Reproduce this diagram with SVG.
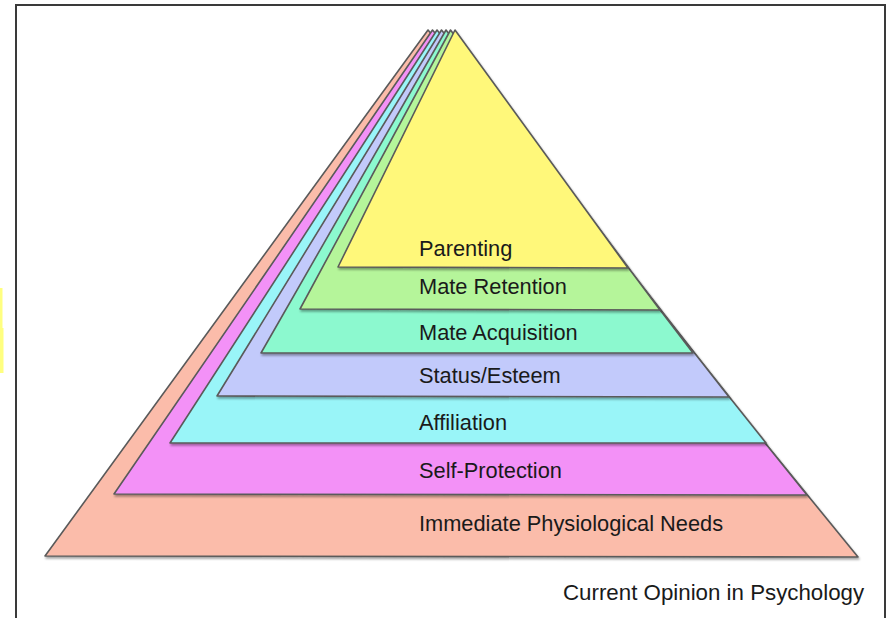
<svg xmlns="http://www.w3.org/2000/svg" width="890" height="618" viewBox="0 0 890 618">
<style>
.layer{stroke:#5a5a5a;stroke-width:1.6;stroke-linejoin:round;filter:url(#sh)}
.lbl{font-family:"Liberation Sans",Arial,sans-serif;font-size:21.8px;fill:#1a1a1a}
.cap{font-size:22.3px}
</style>
<defs>
<filter id="sh" x="-5%" y="-5%" width="110%" height="115%">
<feDropShadow dx="1" dy="2" stdDeviation="1.3" flood-color="#000" flood-opacity="0.35"/>
</filter>
</defs>
<rect x="0" y="0" width="890" height="618" fill="#ffffff"/>
<rect x="0" y="288" width="2.5" height="40" fill="#ffff80"/>
<rect x="0" y="328" width="3.5" height="45" fill="#ffff80"/>
<rect x="16" y="5" width="869" height="625" fill="#ffffff" stroke="#3a3a3a" stroke-width="2"/>
<g id="immediate-physiological-needs">
<polygon class="layer" points="428,30 858,557 45,556" fill="#fbbcaa"/>
<text class="lbl" x="419" y="531">Immediate Physiological Needs</text>
</g>
<g id="self-protection">
<polygon class="layer" points="432.5,30 807,495 114,494" fill="#f391f7"/>
<text class="lbl" x="419" y="478">Self-Protection</text>
</g>
<g id="affiliation">
<polygon class="layer" points="437,30 766,443 170,443" fill="#99f5f8"/>
<text class="lbl" x="419" y="430">Affiliation</text>
</g>
<g id="status-esteem">
<polygon class="layer" points="441.5,30 729,397 217,396" fill="#c2cafb"/>
<text class="lbl" x="419" y="383">Status/Esteem</text>
</g>
<g id="mate-acquisition">
<polygon class="layer" points="446,30 693,353 261,353" fill="#8cf9cf"/>
<text class="lbl" x="419" y="340">Mate Acquisition</text>
</g>
<g id="mate-retention">
<polygon class="layer" points="450.5,30 660,310 300,309" fill="#b5f59a"/>
<text class="lbl" x="419" y="294">Mate Retention</text>
</g>
<g id="parenting">
<polygon class="layer" points="455,30 628,268 338,267" fill="#fff87a"/>
<text class="lbl" x="419" y="256">Parenting</text>
</g>
<text class="lbl cap" x="563" y="600">Current Opinion in Psychology</text>
</svg>
